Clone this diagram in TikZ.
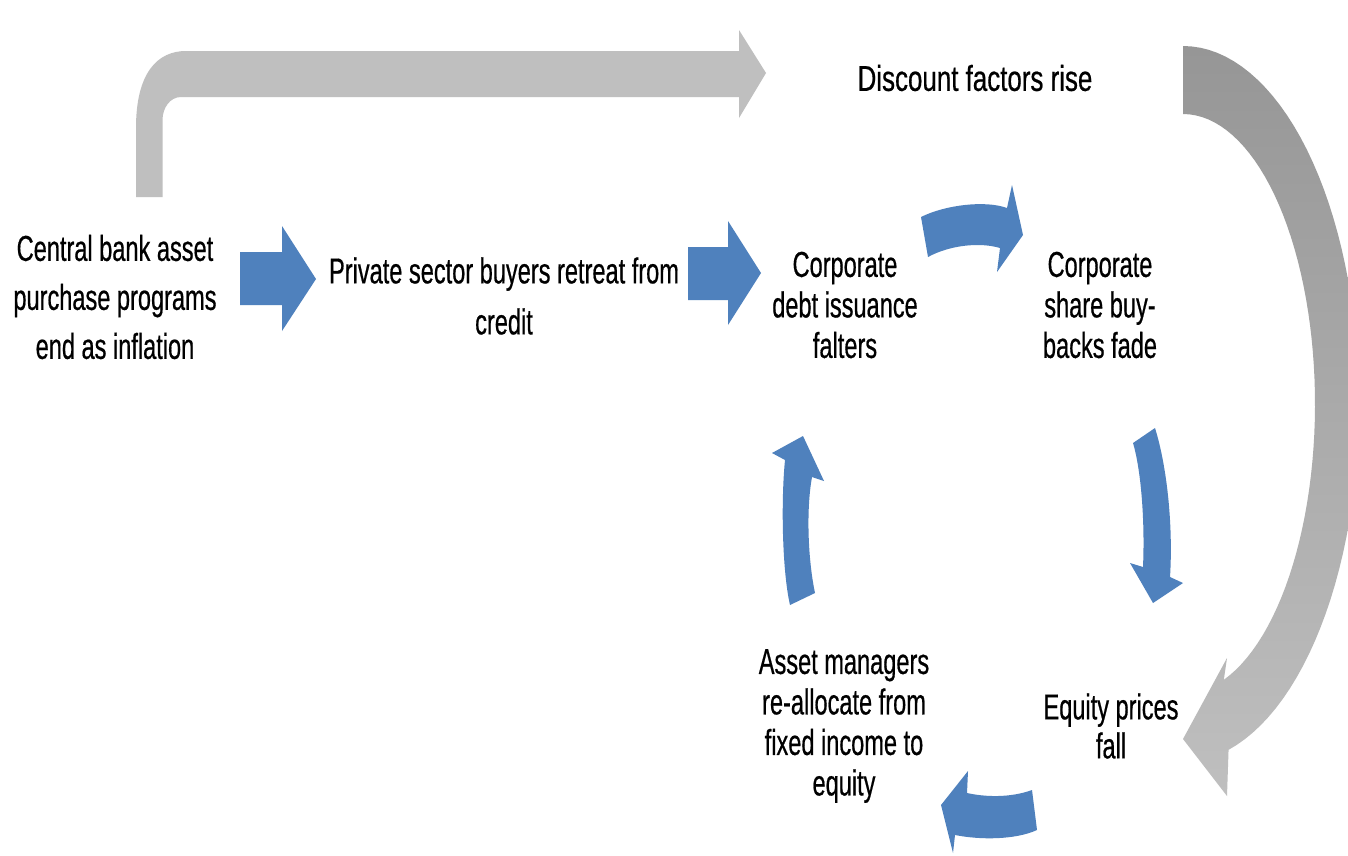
\documentclass[tikz,border=0pt]{standalone}
\usepackage{fontspec}
\newfontfamily\nf[FakeStretch=0.655,FakeBold=0.5]{Liberation Sans}
\newfontfamily\nfd[FakeStretch=0.72,FakeBold=0.5]{Liberation Sans}
\definecolor{blu}{RGB}{79,129,189}
\definecolor{lgr}{RGB}{191,191,191}
\definecolor{dgr}{RGB}{150,150,150}
\begin{document}
\begin{tikzpicture}[x=1pt,y=-1pt,
  lbl/.style={align=center, inner sep=0pt, text=black},
  blockarrow/.style={fill=blu, draw=none},
  greyarrow/.style={fill=lgr, draw=none}]
\useasboundingbox (0,0) rectangle (1348,855);
\clip (0,0) rectangle (1348,855);
\fill[white] (0,0) rectangle (1348,855);

% texts
\node[lbl, font=\nf\fontsize{36}{49}\selectfont] (cb) at (115,297) {Central bank asset\\purchase programs\\end as inflation};
\node[lbl, font=\nf\fontsize{36}{51}\selectfont] (ps) at (504,296) {Private sector buyers retreat from\\credit};
\node[lbl, font=\nf\fontsize{36}{40.5}\selectfont] (cd) at (845,305) {Corporate\\debt issuance\\falters};
\node[lbl, font=\nf\fontsize{36}{40.5}\selectfont] (cs) at (1100,305) {Corporate\\share buy-\\backs fade};
\node[lbl, font=\nf\fontsize{36}{40.5}\selectfont] (am) at (844,726) {Asset managers\\re-allocate from\\fixed income to\\equity};
\node[lbl, font=\nf\fontsize{36}{39}\selectfont] (ep) at (1111,726) {Equity prices\\fall};
\node[lbl, font=\nfd\fontsize{36}{40}\selectfont] (df) at (975,78) {Discount factors rise};

% top grey bent arrow
\path[greyarrow] (136,197) -- (136,128) .. controls (136,72) and (158,51) .. (186,51)
  -- (739,51) -- (739,30) -- (766,73) -- (739,118) -- (739,97) -- (181,97)
  .. controls (170,97) and (162.5,108) .. (162.5,120) -- (162.5,197) -- cycle;

% right grey curved arrow
\shade[top color=dgr, middle color=dgr!65!lgr, bottom color=lgr]
  plot[domain=90:-75,samples=60] ({1183+176*cos(\x)},{404-358*sin(\x)})
  -- (1227,796) -- (1183,739) -- (1227,658)
  -- plot[domain=-72:90,samples=60] ({1183+132*cos(\x)},{404-290*sin(\x)}) -- cycle;

% straight blue arrows
\path[blockarrow] (240,252) -- (282,252) -- (282,226) -- (316,279) -- (282,331) -- (282,305) -- (240,305) -- cycle;
\path[blockarrow] (688,247) -- (728,247) -- (728,221) -- (761,273) -- (728,325) -- (728,300) -- (688,300) -- cycle;

% curved blue arrows (cycle)
\path[blockarrow] (921,217) .. controls (945,205) and (985,200) .. (1007,208) -- (1012,185) -- (1023,235)
  -- (997,272) -- (1000,248) .. controls (980,242) and (950,245) .. (928,257) -- cycle;
\path[blockarrow] (1155,428) .. controls (1168,470) and (1173,530) .. (1170,577) -- (1183,583) -- (1153,603)
  -- (1130,563) -- (1143,567) .. controls (1145,520) and (1141,470) .. (1133,443) -- cycle;
\path[blockarrow] (1032,790) .. controls (1010,798) and (985,797) .. (967,793) -- (968,771) -- (941,805)
  -- (953,853) -- (955,835) .. controls (980,840) and (1015,840) .. (1037,830) -- cycle;
\path[blockarrow] (790,605) .. controls (782,570) and (781,500) .. (785,460) -- (772,453) -- (803,436)
  -- (824,481) -- (812,477) .. controls (806,510) and (808,560) .. (815,593) -- cycle;
\end{tikzpicture}
\end{document}
